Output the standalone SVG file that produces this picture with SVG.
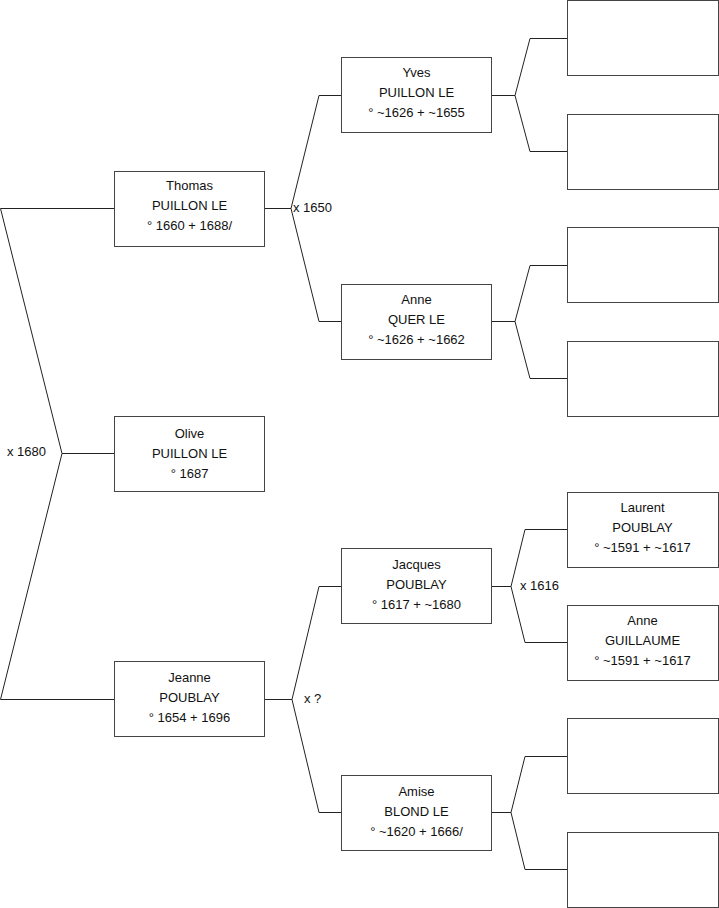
<svg xmlns="http://www.w3.org/2000/svg" width="719" height="908" viewBox="0 0 719 908">
<style>
.box{fill:#fff;stroke:#444;stroke-width:1}
.ln{fill:none;stroke:#222;stroke-width:1}
text{font-family:"Liberation Sans",Arial,sans-serif;font-size:13px;fill:#111}
.c{text-anchor:middle}
</style>
<rect width="719" height="908" fill="#fff"/>
<g id="connectors">
<polyline class="ln" points="114,208.5 0.5,208.5 62,453.5 0.5,699.5 114,699.5"/>
<line class="ln" x1="62" y1="453.5" x2="114" y2="453.5"/>
<polyline class="ln" points="341,95.5 319,95.5 291,208.5 319,321.5 341,321.5"/>
<line class="ln" x1="265" y1="208.5" x2="291" y2="208.5"/>
<polyline class="ln" points="341,586.5 319,586.5 292,699.5 319,812.5 341,812.5"/>
<line class="ln" x1="265" y1="699.5" x2="292" y2="699.5"/>
<polyline class="ln" points="567,38.5 530,38.5 515,95.5 530,151.5 567,151.5"/>
<line class="ln" x1="492" y1="95.5" x2="515" y2="95.5"/>
<polyline class="ln" points="567,265.5 530,265.5 515,321.5 530,378.5 567,378.5"/>
<line class="ln" x1="492" y1="321.5" x2="515" y2="321.5"/>
<polyline class="ln" points="567,529.5 525,529.5 511,586.5 525,642.5 567,642.5"/>
<line class="ln" x1="492" y1="586.5" x2="511" y2="586.5"/>
<polyline class="ln" points="567,756.5 525,756.5 511,812.5 525,869.5 567,869.5"/>
<line class="ln" x1="492" y1="812.5" x2="511" y2="812.5"/>
<text x="7" y="456">x 1680</text>
<text x="293" y="212">x 1650</text>
<text x="304" y="703">x ?</text>
<text x="520" y="590">x 1616</text>
</g>
<g id="thomas"><rect class="box" x="114.5" y="171.5" width="150" height="75"/>
<text class="c" x="189.5" y="190">Thomas</text><text class="c" x="189.5" y="210">PUILLON LE</text><text class="c" x="189.5" y="230">° 1660 + 1688/</text></g>
<g id="olive"><rect class="box" x="114.5" y="416.5" width="150" height="75"/>
<text class="c" x="189.5" y="438">Olive</text><text class="c" x="189.5" y="458">PUILLON LE</text><text class="c" x="189.5" y="478">° 1687</text></g>
<g id="jeanne"><rect class="box" x="114.5" y="661.5" width="150" height="75"/>
<text class="c" x="189.5" y="682">Jeanne</text><text class="c" x="189.5" y="702">POUBLAY</text><text class="c" x="189.5" y="722">° 1654 + 1696</text></g>
<g id="yves"><rect class="box" x="341.5" y="57.5" width="150" height="75"/>
<text class="c" x="416.5" y="77">Yves</text><text class="c" x="416.5" y="97">PUILLON LE</text><text class="c" x="416.5" y="117">° ~1626 + ~1655</text></g>
<g id="anne-quer"><rect class="box" x="341.5" y="284.5" width="150" height="75"/>
<text class="c" x="416.5" y="304">Anne</text><text class="c" x="416.5" y="324">QUER LE</text><text class="c" x="416.5" y="344">° ~1626 + ~1662</text></g>
<g id="jacques"><rect class="box" x="341.5" y="548.5" width="150" height="75"/>
<text class="c" x="416.5" y="569">Jacques</text><text class="c" x="416.5" y="589">POUBLAY</text><text class="c" x="416.5" y="609">° 1617 + ~1680</text></g>
<g id="amise"><rect class="box" x="341.5" y="775.5" width="150" height="75"/>
<text class="c" x="416.5" y="796">Amise</text><text class="c" x="416.5" y="816">BLOND LE</text><text class="c" x="416.5" y="836">° ~1620 + 1666/</text></g>
<g id="empty1"><rect class="box" x="567.5" y="0.5" width="151" height="75"/></g>
<g id="empty2"><rect class="box" x="567.5" y="114.5" width="151" height="75"/></g>
<g id="empty3"><rect class="box" x="567.5" y="227.5" width="151" height="75"/></g>
<g id="empty4"><rect class="box" x="567.5" y="341.5" width="151" height="75"/></g>
<g id="laurent"><rect class="box" x="567.5" y="492.5" width="151" height="75"/>
<text class="c" x="642.5" y="512">Laurent</text><text class="c" x="642.5" y="532">POUBLAY</text><text class="c" x="642.5" y="552">° ~1591 + ~1617</text></g>
<g id="anne-guillaume"><rect class="box" x="567.5" y="605.5" width="151" height="75"/>
<text class="c" x="642.5" y="625">Anne</text><text class="c" x="642.5" y="645">GUILLAUME</text><text class="c" x="642.5" y="665">° ~1591 + ~1617</text></g>
<g id="empty5"><rect class="box" x="567.5" y="718.5" width="151" height="75"/></g>
<g id="empty6"><rect class="box" x="567.5" y="832.5" width="151" height="75"/></g>
</svg>
